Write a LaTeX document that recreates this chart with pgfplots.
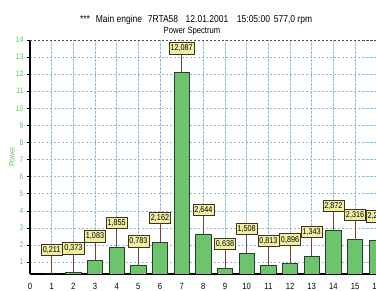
\documentclass[border=0pt]{standalone}
\usepackage{fontspec}
\setmainfont{Liberation Sans}[FakeStretch=0.85]
\usepackage{pgfplots}
\pgfplotsset{compat=1.18}
\definecolor{barfill}{RGB}{108,196,108}
\definecolor{baredge}{RGB}{45,60,45}
\definecolor{boxfill}{RGB}{240,238,160}
\definecolor{boxedge}{RGB}{60,50,40}
\definecolor{linebrown}{RGB}{120,70,55}
\definecolor{tickgreen}{RGB}{95,196,95}
\definecolor{gridblue}{RGB}{140,190,215}
\begin{document}
\begin{tikzpicture}
\useasboundingbox (0,0) rectangle (376pt,291pt);
\clip (0,0) rectangle (376pt,291pt);
\begin{axis}[
  at={(30pt,17pt)}, anchor=south west,
  scale only axis, width=346.7pt, height=234pt,
  xmin=0, xmax=16, ymin=0.3, ymax=14,
  xtick={0,...,16}, ytick={1,...,14},
  axis x line=bottom, axis y line=left,
  axis line style={-, line width=1.2pt, black},
  grid=major,
  grid style={dash pattern=on 2.5pt off 1.5pt, color=gridblue, line width=0.5pt},
  extra y ticks={14}, extra y tick labels={},
  extra y tick style={grid style={dash pattern=on 2.5pt off 1.5pt, color=black!70, line width=0.6pt}},
  tick align=outside, major tick length=3pt,
  xtick style={draw=none},
  ytick style={black, line width=0.5pt},
  clip marker paths=true,
  /pgf/number format/assume math mode=true,
  xticklabel style={font=\fontsize{9}{10}\selectfont, yshift=-2.5pt},
  yticklabel style={font=\fontsize{8}{9}\selectfont, color=tickgreen},
  ylabel={Power},
  every axis y label/.style={at={(axis description cs:0,0.5)}, xshift=-18pt, rotate=90, anchor=center,
    font=\fontsize{8}{9}\selectfont, color=tickgreen},
]
\addplot[ybar, bar width=0.7, fill=barfill, draw=baredge, line width=0.7pt,
  y filter/.expression={max(y,0.302)},
  point meta=rawy,
  nodes near coords={\pgfmathprintnumber[fixed,fixed zerofill,precision=3,use comma,1000 sep={}]{\pgfplotspointmeta}},
  every node near coord/.append style={yshift=18.5pt, fill=boxfill, draw=boxedge, line width=0.6pt,
    inner xsep=1.5pt, inner ysep=2pt, text height=6.3pt, text depth=1pt,
    font=\fontsize{8.5}{9}\selectfont, text=black},
  error bars/.cd, y dir=plus, y fixed=1.2, error mark=none,
  error bar style={color=linebrown, line width=0.7pt}]
coordinates {
(1,0.211) (2,0.373) (3,1.083) (4,1.855) (5,0.783) (6,2.162) (7,12.087) (8,2.644)
(9,0.638) (10,1.508) (11,0.813) (12,0.896) (13,1.343) (14,2.872) (15,2.316) (16,2.248)
};
\end{axis}
\begin{scope}[every node/.style={anchor=base, inner sep=0pt, font=\fontsize{10}{12}\selectfont}]
\node at (85pt,268.3pt) {***};
\node at (119pt,268.3pt) {Main engine};
\node at (163pt,268.3pt) {7RTA58};
\node at (207pt,268.3pt) {12.01.2001};
\node at (253.5pt,268.3pt) {15:05:00};
\node at (293pt,268.3pt) {577,0 rpm};
\node[font=\fontsize{9}{11}\selectfont] at (192pt,257.7pt) {Power Spectrum};
\end{scope}
\end{tikzpicture}
\end{document}
